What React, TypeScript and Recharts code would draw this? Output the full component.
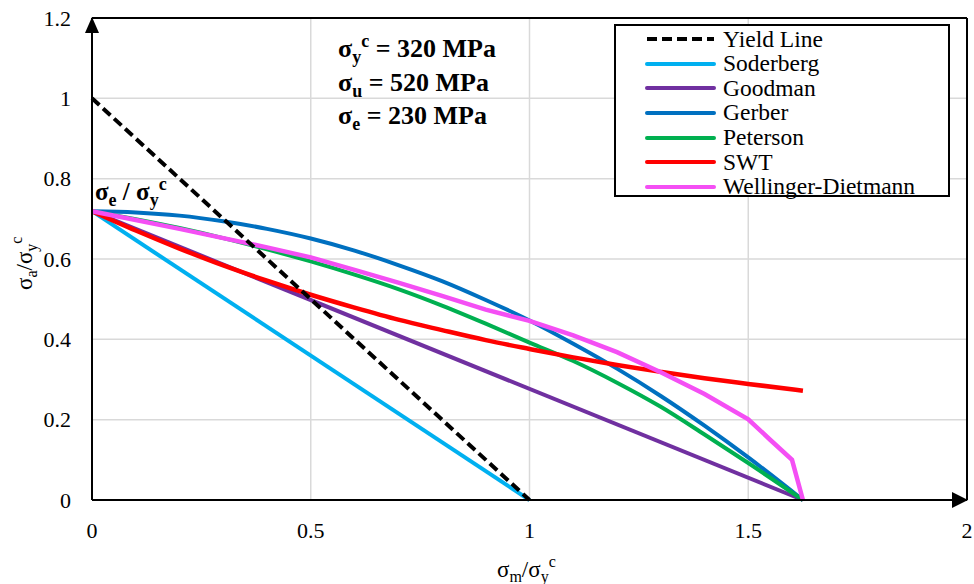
import React from 'react';
import { LineChart, Line, XAxis, YAxis, CartesianGrid, Legend, ReferenceLine, ReferenceDot } from 'recharts';

// normalised mean stress (σm/σy^c) sample points for the curved criteria
const curveX = [0, 0.1, 0.2, 0.3, 0.4, 0.5, 0.6, 0.7, 0.8, 0.9, 1.0, 1.1, 1.2, 1.3, 1.4, 1.5, 1.625];
const gerberY = [0.719, 0.716, 0.708, 0.694, 0.675, 0.651, 0.621, 0.585, 0.545, 0.498, 0.447, 0.389, 0.327, 0.259, 0.185, 0.106, 0];
const petersonY = [0.719, 0.699, 0.677, 0.652, 0.624, 0.594, 0.561, 0.525, 0.484, 0.439, 0.392, 0.346, 0.292, 0.232, 0.163, 0.092, 0];
const swtY = [0.719, 0.671, 0.626, 0.584, 0.546, 0.511, 0.479, 0.449, 0.423, 0.398, 0.376, 0.355, 0.336, 0.319, 0.303, 0.289, 0.272];

const wdX = [0, 0.1, 0.2, 0.3, 0.4, 0.5, 0.6, 0.7, 0.8, 0.9, 1.0, 1.1, 1.2, 1.3, 1.4, 1.5, 1.55, 1.6, 1.625];
const wdY = [0.719, 0.697, 0.675, 0.652, 0.629, 0.604, 0.573, 0.541, 0.508, 0.474, 0.446, 0.41, 0.368, 0.318, 0.264, 0.201, 0.15, 0.1, 0];

// straight-line criteria: end points
const yieldX = [0, 1];
const yieldY = [1, 0];
const soderbergX = [0, 1];
const soderbergY = [0.719, 0];
const goodmanX = [0, 1.625];
const goodmanY = [0.719, 0];

const xTicks = [0, 0.5, 1, 1.5, 2];
const yTicks = [0, 0.2, 0.4, 0.6, 0.8, 1, 1.2];

const zip = (xs: number[], ys: number[]) => xs.map((x, i) => ({ x, y: ys[i] }));

const FONT = '"Liberation Serif", "Times New Roman", Times, serif';

const series = [
  { name: 'Yield Line', color: '#000000', dash: '10 5', width: 4, data: zip(yieldX, yieldY), type: 'linear' },
  { name: 'Soderberg', color: '#00b0f0', dash: undefined, width: 4, data: zip(soderbergX, soderbergY), type: 'linear' },
  { name: 'Goodman', color: '#7030a0', dash: undefined, width: 4, data: zip(goodmanX, goodmanY), type: 'linear' },
  { name: 'Gerber', color: '#0070c0', dash: undefined, width: 4, data: zip(curveX, gerberY), type: 'monotoneX' },
  { name: 'Peterson', color: '#00b050', dash: undefined, width: 4, data: zip(curveX, petersonY), type: 'monotoneX' },
  { name: 'SWT', color: '#ff0000', dash: undefined, width: 4.5, data: zip(curveX, swtY), type: 'monotoneX' },
  { name: 'Wellinger-Dietmann', color: '#f44ff4', dash: undefined, width: 4.5, data: zip(wdX, wdY), type: 'linear' },
];

const drawOrder = [1, 2, 3, 4, 5, 6, 0];

const renderLegend = () => (
  <div style={{ width: 336, height: 173, boxSizing: 'border-box', border: '2px solid #000', background: '#fff', paddingTop: 1 }}>
    {series.map((s) => (
      <div key={s.name} style={{ display: 'flex', alignItems: 'center', height: 24.6 }}>
        <svg width={71} height={8} style={{ marginLeft: 29 }}>
          <line x1={2} y1={4} x2={69} y2={4} stroke={s.color} strokeWidth={4} strokeDasharray={s.dash} strokeLinecap={s.dash ? 'butt' : 'round'} />
        </svg>
        <span style={{ marginLeft: 7, fontFamily: FONT, fontSize: 23.5, lineHeight: 1, color: '#000' }}>{s.name}</span>
      </div>
    ))}
  </div>
);

const UpArrow = (props: any) => {
  const { cx, cy } = props;
  return <path d={`M${cx},${cy - 1} L${cx - 7},${cy + 15} L${cx + 7},${cy + 15} Z`} fill="#000" />;
};

const RightArrow = (props: any) => {
  const { cx, cy } = props;
  return <path d={`M${cx + 1},${cy} L${cx - 15},${cy - 8} L${cx - 15},${cy + 8} Z`} fill="#000" />;
};

export default function App() {
  return (
    <div style={{ position: 'absolute', left: 0, top: 0, width: 974, height: 584, background: '#fff', fontFamily: FONT }}>
      <LineChart width={974} height={584} margin={{ top: 18, right: 7, bottom: 0, left: 0 }} style={{ fontFamily: FONT }}>
        <CartesianGrid stroke="#d9d9d9" strokeWidth={1.5} />
        <XAxis
          type="number"
          dataKey="x"
          domain={[0, 2]}
          ticks={xTicks}
          height={84}
          tickSize={0}
          tickMargin={22}
          axisLine={{ stroke: '#000', strokeWidth: 2 }}
          tick={{ fill: '#000', fontSize: 22, fontFamily: FONT }}
          allowDuplicatedCategory={false}
        />
        <YAxis
          type="number"
          dataKey="y"
          domain={[0, 1.2]}
          ticks={yTicks}
          width={92}
          tickSize={0}
          tickMargin={21}
          axisLine={{ stroke: '#000', strokeWidth: 2 }}
          tick={{ fill: '#000', fontSize: 22, fontFamily: FONT }}
        />
        <ReferenceLine y={1.2} stroke="#000" strokeWidth={2} />
        <ReferenceLine x={2} stroke="#000" strokeWidth={2} />
        {drawOrder.map((i) => {
          const s = series[i];
          return (
            <Line
              key={s.name}
              data={s.data}
              dataKey="y"
              name={s.name}
              type={s.type as any}
              stroke={s.color}
              strokeWidth={s.width}
              strokeDasharray={s.dash}
              dot={false}
              activeDot={false}
              isAnimationActive={false}
            />
          );
        })}
        <ReferenceDot x={0} y={1.2} shape={UpArrow} />
        <ReferenceDot x={2} y={0} shape={RightArrow} />
        <Legend
          layout="vertical"
          align="center"
          verticalAlign="middle"
          content={renderLegend}
          wrapperStyle={{ left: 614, top: 24, width: 336, height: 173 }}
        />
      </LineChart>
      <svg
        width={974}
        height={584}
        style={{ position: 'absolute', left: 0, top: 0, pointerEvents: 'none', fontFamily: FONT }}
      >
        <g fontWeight="bold" fontSize={26} fill="#000">
          <text x={338} y={57}>
            σ<tspan dy={6} fontSize={18}>y</tspan>
            <tspan dy={-16} fontSize={18}>c</tspan>
            <tspan dy={10}> = 320 MPa</tspan>
          </text>
          <text x={338} y={91}>
            σ<tspan dy={6} fontSize={18}>u</tspan>
            <tspan dy={-6}> = 520 MPa</tspan>
          </text>
          <text x={338} y={124}>
            σ<tspan dy={6} fontSize={18}>e</tspan>
            <tspan dy={-6}> = 230 MPa</tspan>
          </text>
          <text x={95} y={200} fontSize={25}>
            σ<tspan dy={6} fontSize={18}>e</tspan>
            <tspan dy={-6}> / σ</tspan>
            <tspan dy={6} fontSize={18}>y</tspan>
            <tspan dy={-16} fontSize={18}>c</tspan>
          </text>
        </g>
        <text x={497} y={577} fontSize={23} fill="#000">
          σ<tspan dy={5} fontSize={16}>m</tspan>
          <tspan dy={-5}>/σ</tspan>
          <tspan dy={5} fontSize={16}>y</tspan>
          <tspan dy={-15} fontSize={16}>c</tspan>
        </text>
        <text transform="translate(32,290) rotate(-90)" fontSize={23} fill="#000">
          σ<tspan dy={5} fontSize={16}>a</tspan>
          <tspan dy={-5}>/σ</tspan>
          <tspan dy={5} fontSize={16}>y</tspan>
          <tspan dy={-15} fontSize={16}>c</tspan>
        </text>
      </svg>
    </div>
  );
}
